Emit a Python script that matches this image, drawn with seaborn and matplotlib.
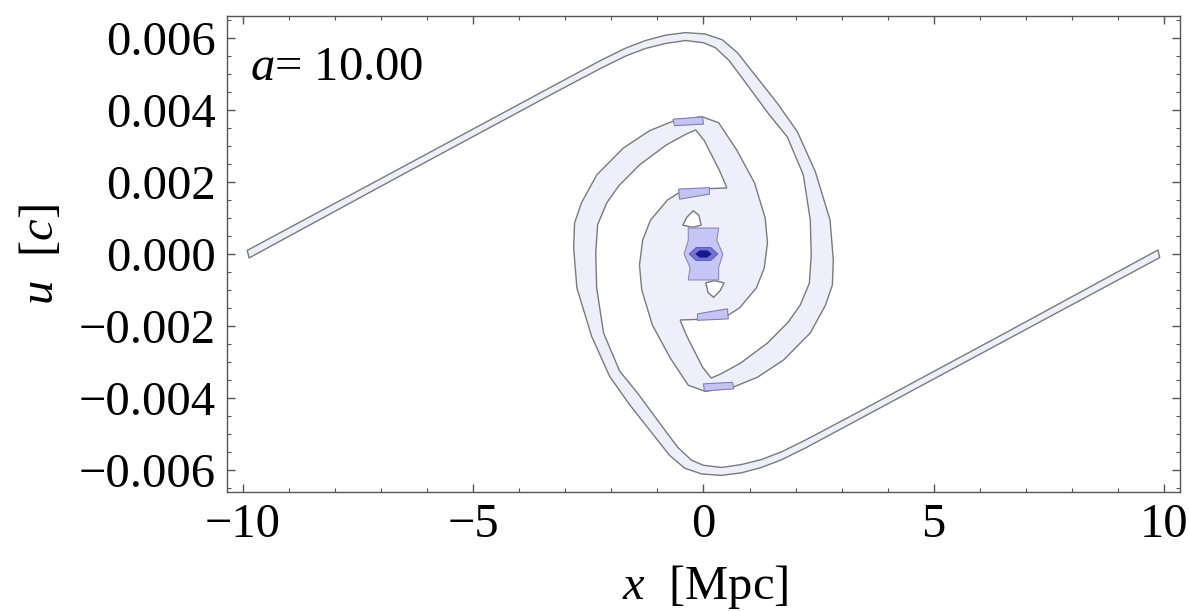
import numpy as np
import matplotlib
matplotlib.use("Agg")
import matplotlib.pyplot as plt
import seaborn as sns
from matplotlib.ticker import MultipleLocator, FuncFormatter

# phase-space sheet, one arm (x in Mpc, u in 1e-3 c)
# the other arm is the same arm turned through 180 degrees about the origin
# outer edge: left tip -> over the top -> down the right side -> round the core
arm_outer_x = [-9.91, -6.57, -3.15, -2.23, -1.69, -1.26, -0.82, -0.39, 0.04, 0.41,
               0.74, 1.06, 1.37, 1.61, 2.04, 2.43, 2.75, 2.82, 2.80, 2.65,
               2.32, 1.74, 1.17, 0.65, 0.04, -0.33, -0.72, -1.11, -1.34, -1.39,
               -1.32, -1.15, -0.78, -0.43, 0.04, 0.50]
arm_outer_u = [0.10, 2.39, 4.74, 5.37, 5.71, 5.92, 6.07, 6.14, 6.10, 5.94,
               5.58, 5.06, 4.56, 4.17, 3.39, 2.28, 0.94, -0.17, -0.86, -1.42,
               -2.19, -2.94, -3.42, -3.69, -3.81, -3.64, -2.89, -1.97, -1.00, -0.31,
               0.39, 0.94, 1.50, 1.78, 1.81, 1.83]
# inner edge: left tip -> over the top -> down the right side -> into the notch
arm_inner_x = [-9.87, -6.57, -3.15, -2.23, -1.69, -1.26, -0.82, -0.39, 0.00, 0.26,
               0.56, 0.87, 1.17, 1.43, 1.82, 2.17, 2.32, 2.34, 2.30, 2.10,
               1.84, 1.39, 0.80, 0.37, 0.17, -0.02, -0.13, -0.35, -0.50]
arm_inner_u = [-0.11, 2.18, 4.53, 5.15, 5.49, 5.70, 5.84, 5.92, 5.86, 5.72,
               5.36, 4.83, 4.31, 3.86, 3.25, 2.19, 0.94, -0.03, -0.81, -1.42,
               -1.89, -2.47, -3.03, -3.33, -3.44, -3.14, -2.86, -2.31, -1.86]

# denser patches (second contour level), lower half; upper half is mirrored
bar_band_x = [0.00, 0.63, 0.66, 0.02]
bar_band_u = [-3.60, -3.56, -3.74, -3.80]
bar_core_x = [-0.13, 0.52, 0.54, -0.13]
bar_core_u = [-1.66, -1.52, -1.80, -1.84]

# small low-density holes inside the core (upper one, lower one mirrored)
hole_x = [-0.45, -0.36, -0.22, -0.10, -0.05, -0.24]
hole_u = [0.80, 1.02, 1.20, 1.07, 0.80, 0.74]

# central peak: three nested levels
blob_x = [-0.33, 0.33, 0.29, 0.42, 0.33, 0.33, -0.33, -0.29, -0.42, -0.33]
blob_u = [0.72, 0.72, 0.38, 0.00, -0.38, -0.72, -0.72, -0.38, 0.00, 0.38]
ring_x = [-0.31, -0.16, 0.16, 0.31, 0.16, -0.16]
ring_u = [0.00, 0.18, 0.18, 0.00, -0.18, -0.18]
peak_x = [-0.18, -0.08, 0.08, 0.18, 0.08, -0.08]
peak_u = [0.00, 0.10, 0.10, 0.00, -0.10, -0.10]

x_ticks = [-10, -5, 0, 5, 10]
u_ticks = [-0.006, -0.004, -0.002, 0.0, 0.002, 0.004, 0.006]

sns.set_theme(style="ticks", rc={
    "axes.edgecolor": "#555555",
    "axes.linewidth": 1.0,
    "xtick.color": "#555555",
    "ytick.color": "#555555",
    "xtick.labelcolor": "black",
    "ytick.labelcolor": "black",
    "text.color": "black",
    "axes.labelcolor": "black",
})
plt.rcParams["font.family"] = ["Liberation Serif", "DejaVu Serif"]
plt.rcParams["mathtext.fontset"] = "custom"
plt.rcParams["mathtext.rm"] = "Liberation Serif"
plt.rcParams["mathtext.it"] = "Liberation Serif:italic"

fs = 35
edge = "#7a7a7a"

fig = plt.figure(figsize=(11.89, 6.11), dpi=100)
ax = fig.add_axes([0.1909, 0.1948, 0.8015, 0.7790])

ox = np.array(arm_outer_x)
ou = np.array(arm_outer_u) * 1e-3
ix = np.array(arm_inner_x)
iu = np.array(arm_inner_u) * 1e-3

# whole sheet as one closed outline: arm A outer, arm B inner, arm B outer, arm A inner
sheet_x = np.concatenate([ox, -ix[::-1], -ox, ix[::-1]])
sheet_u = np.concatenate([ou, -iu[::-1], -ou, iu[::-1]])
ax.fill(sheet_x, sheet_u, facecolor="#efeffb", edgecolor=edge, linewidth=1.0,
        joinstyle="round", zorder=2)

hx, hu = np.array(hole_x), np.array(hole_u) * 1e-3
for s in (1, -1):
    ax.fill(s * hx, s * hu, facecolor="white", edgecolor=edge, linewidth=1.0, zorder=3)

for bx, bu in ((bar_band_x, bar_band_u), (bar_core_x, bar_core_u)):
    bx, bu = np.array(bx), np.array(bu) * 1e-3
    for s in (1, -1):
        ax.fill(s * bx, s * bu, facecolor="#c4c4f2", edgecolor="#8080b8",
                linewidth=0.8, zorder=3)

ax.fill(blob_x, np.array(blob_u) * 1e-3, facecolor="#c6c6f6", edgecolor="#8a8ab8",
        linewidth=0.8, zorder=4)
ax.fill(ring_x, np.array(ring_u) * 1e-3, facecolor="#7373d2", edgecolor="#5555b0",
        linewidth=0.6, zorder=5)
ax.fill(peak_x, np.array(peak_u) * 1e-3, facecolor="#16168f", edgecolor="none", zorder=6)

ax.set_xlim(-10.35, 10.35)
ax.set_ylim(-0.0066, 0.0066)
ax.set_xticks(x_ticks)
ax.set_yticks(u_ticks)
ax.xaxis.set_minor_locator(MultipleLocator(1))
ax.yaxis.set_minor_locator(MultipleLocator(0.0005))
ax.xaxis.set_major_formatter(FuncFormatter(lambda v, p: f"{v:.0f}".replace("-", "\u2212")))
ax.yaxis.set_major_formatter(FuncFormatter(lambda v, p: f"{v:.3f}".replace("-", "\u2212")))
ax.tick_params(which="both", direction="in", top=True, right=True, labelsize=fs)
ax.tick_params(which="major", length=6, width=1.0)
ax.tick_params(which="minor", length=3, width=0.8)
ax.tick_params(axis="x", pad=8)
ax.tick_params(axis="y", pad=8)
for sp in ax.spines.values():
    sp.set_visible(True)

ax.set_xlabel(r"$x$  [Mpc]", fontsize=fs, color="black")
ax.set_ylabel(r"$u$  [$c$]", fontsize=fs, color="black")
ax.xaxis.set_label_coords(0.5016, -0.15)
ax.yaxis.set_label_coords(-0.172, 0.498)

ax.text(0.024, 0.89, r"$a$= 10.00", transform=ax.transAxes, fontsize=fs,
        ha="left", va="center", color="black")

fig.savefig("out.png", dpi=100)
